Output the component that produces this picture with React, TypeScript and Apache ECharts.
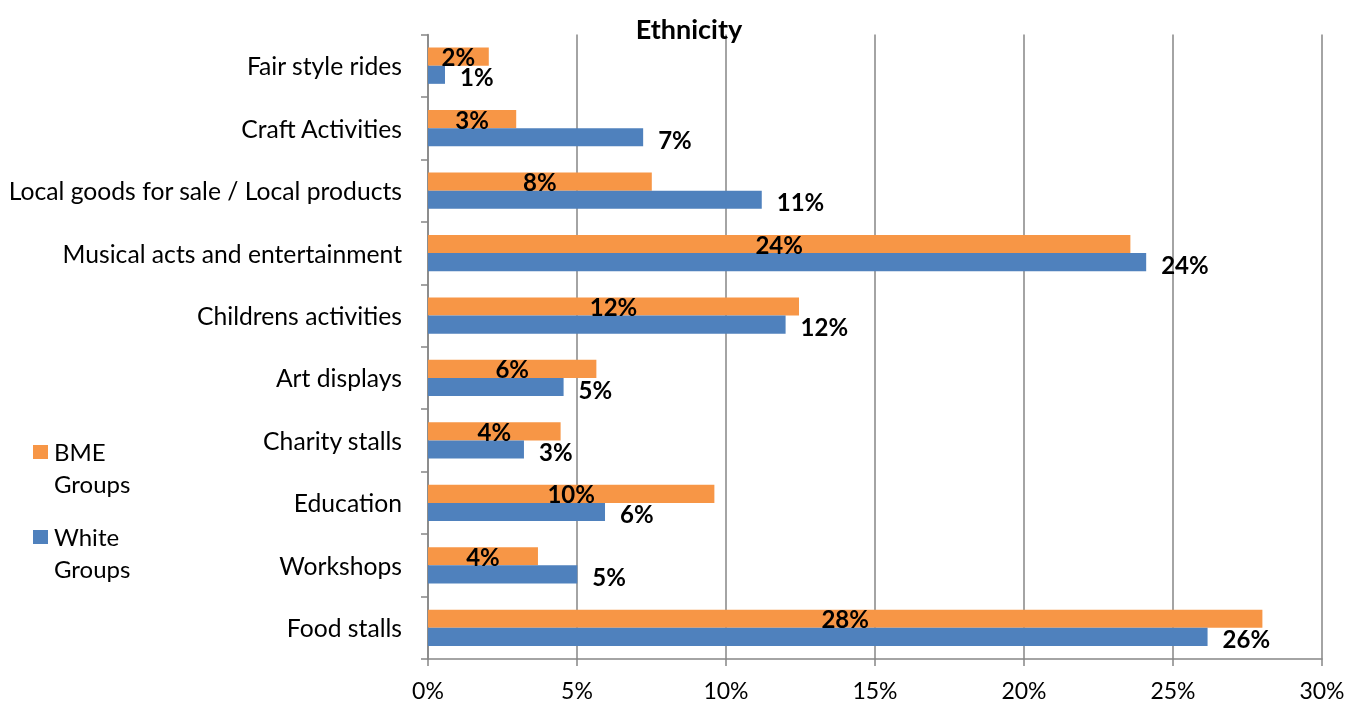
import React, { useEffect, useRef } from "react";
import * as echarts from "echarts";

const categories = [
  "Food stalls",
  "Workshops",
  "Education",
  "Charity stalls",
  "Art displays",
  "Childrens activities",
  "Musical acts and entertainment",
  "Local goods for sale / Local products",
  "Craft Activities",
  "Fair style rides",
];
const bmeValues = [28.0, 3.69, 9.61, 4.45, 5.65, 12.45, 23.57, 7.51, 2.96, 2.04];
const whiteValues = [26.16, 5.01, 5.94, 3.22, 4.55, 12.0, 24.1, 11.2, 7.22, 0.57];
const xTicks = [0, 5, 10, 15, 20, 25, 30];

const ORANGE = "#F79646";
const BLUE = "#4F81BD";
const FONT = "Lato, 'Open Sans', sans-serif";

export default function App() {
  const ref = useRef<HTMLDivElement>(null);
  useEffect(() => {
    if (!ref.current) return;
    const chart = echarts.init(ref.current, null, { renderer: "svg" });
    const fmt = (p: any) => Math.round(p.value) + "%";
    chart.setOption({
      animation: false,
      textStyle: { fontFamily: FONT },
      title: {
        text: "Ethnicity",
        left: 684,
        top: 10,
        textAlign: "center",
        textStyle: { fontFamily: FONT, fontSize: 27, fontWeight: "bold", color: "#000" },
      },
      grid: { left: 428, right: 36, top: 34.5, bottom: 45 },
      xAxis: {
        type: "value",
        min: xTicks[0],
        max: xTicks[xTicks.length - 1],
        interval: 5,
        axisLine: { show: true, lineStyle: { color: "#868686", width: 1.5 } },
        axisTick: { show: true, length: 7, lineStyle: { color: "#868686", width: 1.5 } },
        splitLine: { show: true, lineStyle: { color: "#868686", width: 1.5 } },
        axisLabel: {
          formatter: "{value}%",
          color: "#000",
          fontSize: 23,
          fontFamily: FONT,
          margin: 19,
        },
      },
      yAxis: {
        type: "category",
        data: categories,
        axisLine: { show: true, lineStyle: { color: "#868686", width: 1.5 } },
        axisTick: { show: true, length: 7, lineStyle: { color: "#868686", width: 1.5 } },
        axisLabel: { color: "#000", fontSize: 24.7, fontFamily: FONT, margin: 26 },
      },
      series: [
        {
          name: "BME Groups",
          type: "bar",
          data: bmeValues,
          itemStyle: { color: ORANGE },
          barGap: "0%",
          barCategoryGap: "42%",
          label: {
            show: true,
            position: "inside",
            formatter: fmt,
            color: "#000",
            fontSize: 24,
            fontWeight: "bold",
            fontFamily: FONT,
          },
        },
        {
          name: "White Groups",
          type: "bar",
          data: whiteValues,
          itemStyle: { color: BLUE },
          barGap: "0%",
          barCategoryGap: "42%",
          label: {
            show: true,
            position: "right",
            distance: 15,
            offset: [0, 2],
            formatter: fmt,
            color: "#000",
            fontSize: 24,
            fontWeight: "bold",
            fontFamily: FONT,
          },
        },
      ],
      graphic: [
        { type: "rect", shape: { x: 33, y: 445, width: 15, height: 14 }, style: { fill: ORANGE } },
        {
          type: "text",
          x: 54,
          y: 435,
          style: { text: "BME\nGroups", font: "24px " + FONT, lineHeight: 32, fill: "#000" },
        },
        { type: "rect", shape: { x: 33, y: 530, width: 15, height: 14 }, style: { fill: BLUE } },
        {
          type: "text",
          x: 54,
          y: 520,
          style: { text: "White\nGroups", font: "24px " + FONT, lineHeight: 32, fill: "#000" },
        },
      ],
    });
    return () => chart.dispose();
  }, []);
  return (
    <div
      ref={ref}
      style={{ position: "fixed", left: 0, top: 0, width: 1358, height: 704 }}
    />
  );
}
